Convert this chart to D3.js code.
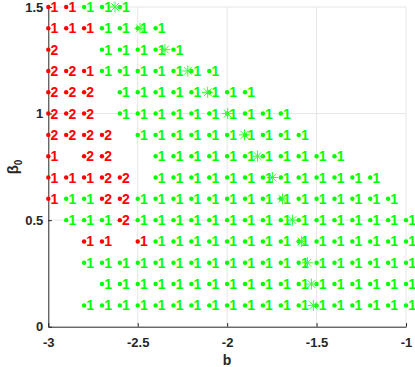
<!DOCTYPE html>
<meta charset="utf-8">

<!-- Load d3.js -->
<script src="https://d3js.org/d3.v7.min.js"></script>

<style>
    body { margin: 0; background: #fff; }
    text { font-family: "Liberation Sans", Arial, sans-serif; }
</style>

<body>
<div id="my_dataviz"></div>

<script>
    // grid of parameters (b along x, beta0 along y)
    var bValues = [-3, -2.9, -2.8, -2.7, -2.6, -2.5, -2.4, -2.3, -2.2, -2.1, -2,
                   -1.9, -1.8, -1.7, -1.6, -1.5, -1.4, -1.3, -1.2, -1.1, -1];
    var beta0Values = [1.5, 1.4, 1.3, 1.2, 1.1, 1, 0.9, 0.8, 0.7, 0.6, 0.5, 0.4, 0.3, 0.2, 0.1];

    // one string per beta0 row, one char per b column
    // A = red "1", B = red "2", g = green "1", . = nothing
    var rowCodes = [
        "AAggg................",
        "AAAgggg..............",
        "B..ggggg.............",
        "BBAggggggg...........",
        "BBB.gggggggg.........",
        "BBB.gggggggggg.......",
        "BBBB.gggggggggg......",
        "A.BB..ggggggggggg....",
        "AAABB.ggggggggggggg..",
        "AggBBggggggggggggggg.",
        ".gggBgggggggggggggggg",
        "..AA.Aggggggggggggggg",
        "..ggggggggggggggggggg",
        "...gggggggggggggggggg",
        "..ggggggggggggggggggg"
    ];

    // boundary curve drawn with asterisks
    var curveB = [-2.627, -2.487, -2.348, -2.220, -2.109, -1.997, -1.903, -1.830,
                  -1.747, -1.691, -1.635, -1.585, -1.551, -1.529, -1.518];
    var curveBeta0 = [1.5, 1.4, 1.3, 1.2, 1.1, 1, 0.9, 0.8, 0.7, 0.6, 0.5, 0.4, 0.3, 0.2, 0.1];

    var xTicks = [-3, -2.5, -2, -1.5, -1];
    var yTicks = [0, 0.5, 1, 1.5];

    var codeStyle = {
        A: {label: "1", color: "#ff0000"},
        B: {label: "2", color: "#ff0000"},
        g: {label: "1", color: "#00ff00"}
    };

    // build the point table from the rows
    var points = [];
    rowCodes.forEach(function(row, i) {
        row.split("").forEach(function(c, j) {
            if (codeStyle[c]) {
                points.push({b: bValues[j], beta0: beta0Values[i],
                             label: codeStyle[c].label, color: codeStyle[c].color});
            }
        });
    });

    var svg = d3.select("#my_dataviz")
        .append("svg")
        .attr("width", 415)
        .attr("height", 367);

    var x = d3.scaleLinear().domain([-3, -1]).range([48.3, 406]);
    var y = d3.scaleLinear().domain([0, 1.5]).range([326.7, 7]);

    // grid lines
    svg.append("g")
        .selectAll("line")
        .data(xTicks.slice(1))
        .enter()
        .append("line")
        .attr("x1", function(d) { return x(d); })
        .attr("x2", function(d) { return x(d); })
        .attr("y1", y(0))
        .attr("y2", y(1.5))
        .style("stroke", "#e6e6e6")
        .style("stroke-width", 1);
    svg.append("g")
        .selectAll("line")
        .data(yTicks.slice(1))
        .enter()
        .append("line")
        .attr("x1", x(-3))
        .attr("x2", x(-1))
        .attr("y1", function(d) { return y(d); })
        .attr("y2", function(d) { return y(d); })
        .style("stroke", "#e6e6e6")
        .style("stroke-width", 1);

    // axes
    var xAxis = svg.append("g")
        .attr("transform", "translate(0," + y(0) + ")")
        .call(d3.axisBottom(x).tickValues(xTicks).tickSize(-3.6).tickSizeOuter(0).tickPadding(10.8)
            .tickFormat(function(d) { return d; }));
    var yAxis = svg.append("g")
        .attr("transform", "translate(" + x(-3) + ",0)")
        .call(d3.axisLeft(y).tickValues(yTicks).tickSize(-3.6).tickSizeOuter(0).tickPadding(5)
            .tickFormat(function(d) { return d; }));

    [xAxis, yAxis].forEach(function(a) {
        a.select(".domain").style("stroke", "#262626");
        a.selectAll(".tick line").style("stroke", "#262626");
        a.selectAll("text")
            .style("font-size", "13px")
            .style("font-weight", "bold")
            .style("font-family", "Liberation Sans, Arial, sans-serif")
            .style("fill", "#262626");
    });

    // axis labels
    svg.append("text")
        .attr("x", 227)
        .attr("y", 365)
        .attr("text-anchor", "middle")
        .style("font-size", "14px")
        .style("font-weight", "bold")
        .style("fill", "#262626")
        .text("b");

    var yLab = svg.append("text")
        .attr("transform", "translate(18,167)rotate(-90)")
        .attr("text-anchor", "middle")
        .style("font-size", "15px")
        .style("font-weight", "bold")
        .style("fill", "#262626");
    yLab.append("tspan").text("\u03b2");
    yLab.append("tspan")
        .attr("dy", 4)
        .style("font-size", "10px")
        .text("0");

    // the dots
    svg.append("g")
        .selectAll("circle")
        .data(points)
        .enter()
        .append("circle")
        .attr("cx", function(d) { return x(d.b); })
        .attr("cy", function(d) { return y(d.beta0); })
        .attr("r", 2.2)
        .style("fill", function(d) { return d.color; });

    // the labels next to dots
    svg.append("g")
        .selectAll("text")
        .data(points)
        .enter()
        .append("text")
        .attr("x", function(d) { return x(d.b) + 2.2; })
        .attr("y", function(d) { return y(d.beta0); })
        .attr("dy", "0.36em")
        .style("font-size", "14px")
        .style("font-weight", "bold")
        .style("fill", function(d) { return d.color; })
        .text(function(d) { return d.label; });

    // asterisks on the curve
    var star = svg.append("g")
        .selectAll("g")
        .data(curveB.map(function(b, i) { return {b: b, beta0: curveBeta0[i]}; }))
        .enter()
        .append("g")
        .attr("transform", function(d) { return "translate(" + x(d.b) + "," + y(d.beta0) + ")"; })
        .style("stroke", "#33ff33")
        .style("stroke-width", 1);
    var arms = [[-5.5, 0, 5.5, 0], [0, -5.5, 0, 5.5], [-3.9, -3.9, 3.9, 3.9], [-3.9, 3.9, 3.9, -3.9]];
    arms.forEach(function(a) {
        star.append("line")
            .attr("x1", a[0]).attr("y1", a[1])
            .attr("x2", a[2]).attr("y2", a[3]);
    });
</script>
</body>
